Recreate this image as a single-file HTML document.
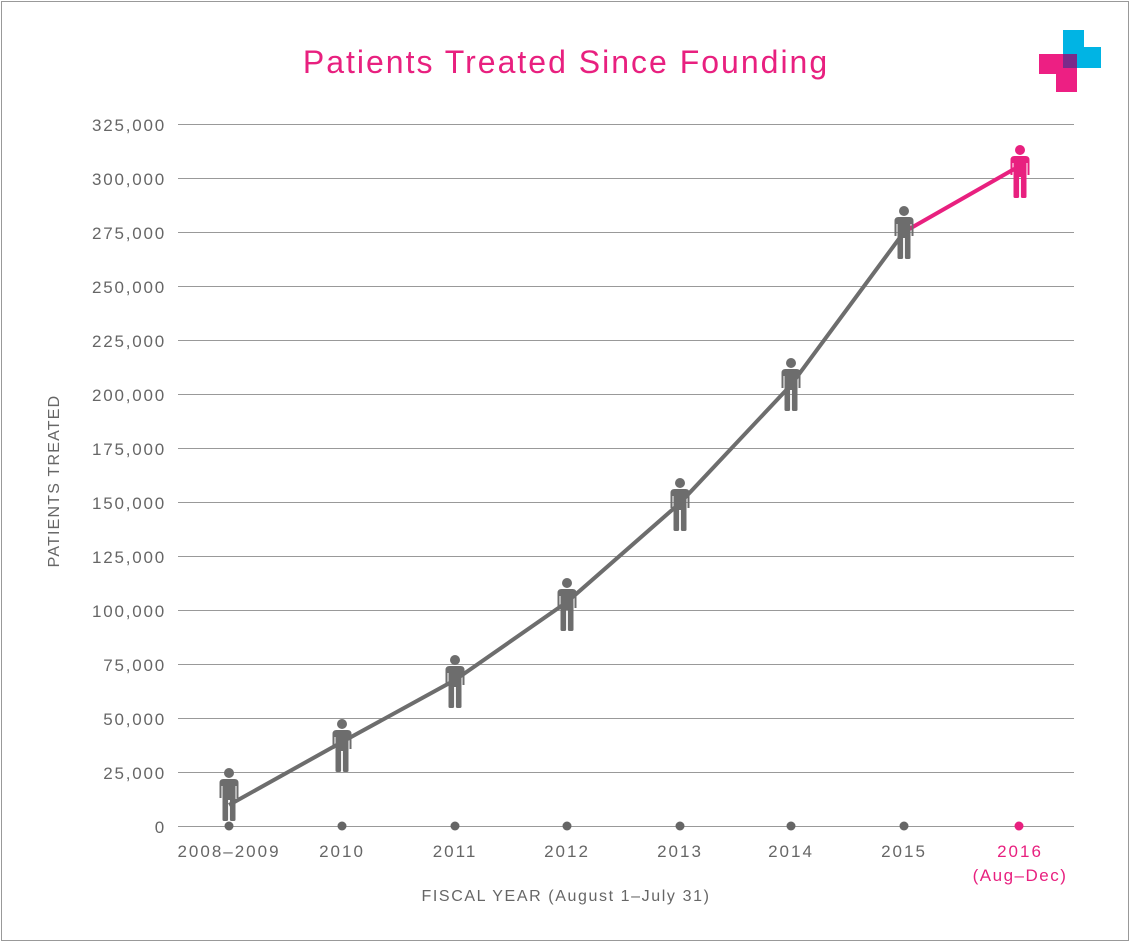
<!DOCTYPE html>
<html><head><meta charset="utf-8"><style>
body{margin:0;background:#fff;}
svg{display:block;font-family:"Liberation Sans",sans-serif;}
</style></head><body>
<svg width="1130" height="942" viewBox="0 0 1130 942">
<defs>
<g id="p">
<circle cx="0" cy="0" r="5"/>
<path d="M-9.5 10 Q-9.5 6 -5.5 6 L5.5 6 Q9.5 6 9.5 10 L9.5 25 L7.5 25 L7.5 13 L6.5 13 L6.5 27 L-6.5 27 L-6.5 13 L-7.5 13 L-7.5 25 L-9.5 25 Z"/>
<rect x="-6.5" y="26" width="5.6" height="22" rx="1.5"/>
<rect x="0.9" y="26" width="5.6" height="22" rx="1.5"/>
</g>
</defs>
<rect x="1.5" y="1.5" width="1127" height="939" fill="#fff" stroke="#999" stroke-width="1"/>
<text x="566" y="73" text-anchor="middle" font-size="32" letter-spacing="2" fill="#e8207f">Patients Treated Since Founding</text>
<rect x="1063" y="30" width="21" height="38" fill="#00b4e4"/>
<rect x="1063" y="47" width="38" height="21" fill="#00b4e4"/>
<rect x="1039" y="54" width="38" height="20" fill="#ed1f83"/>
<rect x="1056" y="54" width="21" height="38" fill="#ed1f83"/>
<rect x="1063" y="54" width="14" height="14" fill="#7a2a8a"/>
<g stroke="#999" stroke-width="1">
<line x1="178" x2="1074" y1="124.5" y2="124.5"/><line x1="178" x2="1074" y1="178.5" y2="178.5"/>
<line x1="178" x2="1074" y1="232.5" y2="232.5"/><line x1="178" x2="1074" y1="286.5" y2="286.5"/>
<line x1="178" x2="1074" y1="340.5" y2="340.5"/><line x1="178" x2="1074" y1="394.5" y2="394.5"/>
<line x1="178" x2="1074" y1="448.5" y2="448.5"/><line x1="178" x2="1074" y1="502.5" y2="502.5"/>
<line x1="178" x2="1074" y1="556.5" y2="556.5"/><line x1="178" x2="1074" y1="610.5" y2="610.5"/>
<line x1="178" x2="1074" y1="664.5" y2="664.5"/><line x1="178" x2="1074" y1="718.5" y2="718.5"/>
<line x1="178" x2="1074" y1="772.5" y2="772.5"/><line x1="178" x2="1074" y1="826.5" y2="826.5"/>
</g>
<g font-size="17" fill="#666" text-anchor="end" letter-spacing="1.8">
<text x="166" y="131">325,000</text><text x="166" y="185">300,000</text><text x="166" y="239">275,000</text>
<text x="166" y="293">250,000</text><text x="166" y="347">225,000</text><text x="166" y="401">200,000</text>
<text x="166" y="455">175,000</text><text x="166" y="509">150,000</text><text x="166" y="563">125,000</text>
<text x="166" y="617">100,000</text><text x="166" y="671">75,000</text><text x="166" y="725">50,000</text>
<text x="166" y="779">25,000</text><text x="166" y="833">0</text>
</g>
<text transform="translate(59,481) rotate(-90)" text-anchor="middle" font-size="16" letter-spacing="1.2" fill="#666">PATIENTS TREATED</text>
<g font-size="17" fill="#666" text-anchor="middle" letter-spacing="2">
<text x="229" y="857">2008–2009</text><text x="342" y="857">2010</text><text x="455" y="857">2011</text>
<text x="567" y="857">2012</text><text x="680" y="857">2013</text><text x="791" y="857">2014</text>
<text x="904" y="857">2015</text>
</g>
<text x="1020" y="857" text-anchor="middle" font-size="17" letter-spacing="2" fill="#e8207f">2016</text>
<text x="1020" y="881" text-anchor="middle" font-size="17" letter-spacing="1.5" fill="#e8207f">(Aug–Dec)</text>
<text x="566" y="901" text-anchor="middle" font-size="16" letter-spacing="1.6" fill="#666">FISCAL YEAR (August 1–July 31)</text>
<g fill="#666"><circle cx="229" cy="826" r="4.5"/><circle cx="342" cy="826" r="4.5"/><circle cx="455" cy="826" r="4.5"/><circle cx="567" cy="826" r="4.5"/><circle cx="680" cy="826" r="4.5"/><circle cx="791" cy="826" r="4.5"/><circle cx="904" cy="826" r="4.5"/></g>
<circle cx="1019" cy="826" r="4.5" fill="#e8207f"/>
<polyline points="229,805 342,742 455,680 567,602 680,503 791,385 904,232" fill="none" stroke="#6d6d6d" stroke-width="4"/>
<line x1="904" y1="232" x2="1016" y2="168" stroke="#e8207f" stroke-width="4"/>
<g fill="#6d6d6d">
<use href="#p" x="229" y="773"/><use href="#p" x="342" y="724"/><use href="#p" x="455" y="660"/>
<use href="#p" x="567" y="583"/><use href="#p" x="680" y="483"/><use href="#p" x="791" y="363"/>
<use href="#p" x="904" y="211"/>
</g>
<use href="#p" x="1020" y="150" fill="#e8207f"/>
</svg>
</body></html>
